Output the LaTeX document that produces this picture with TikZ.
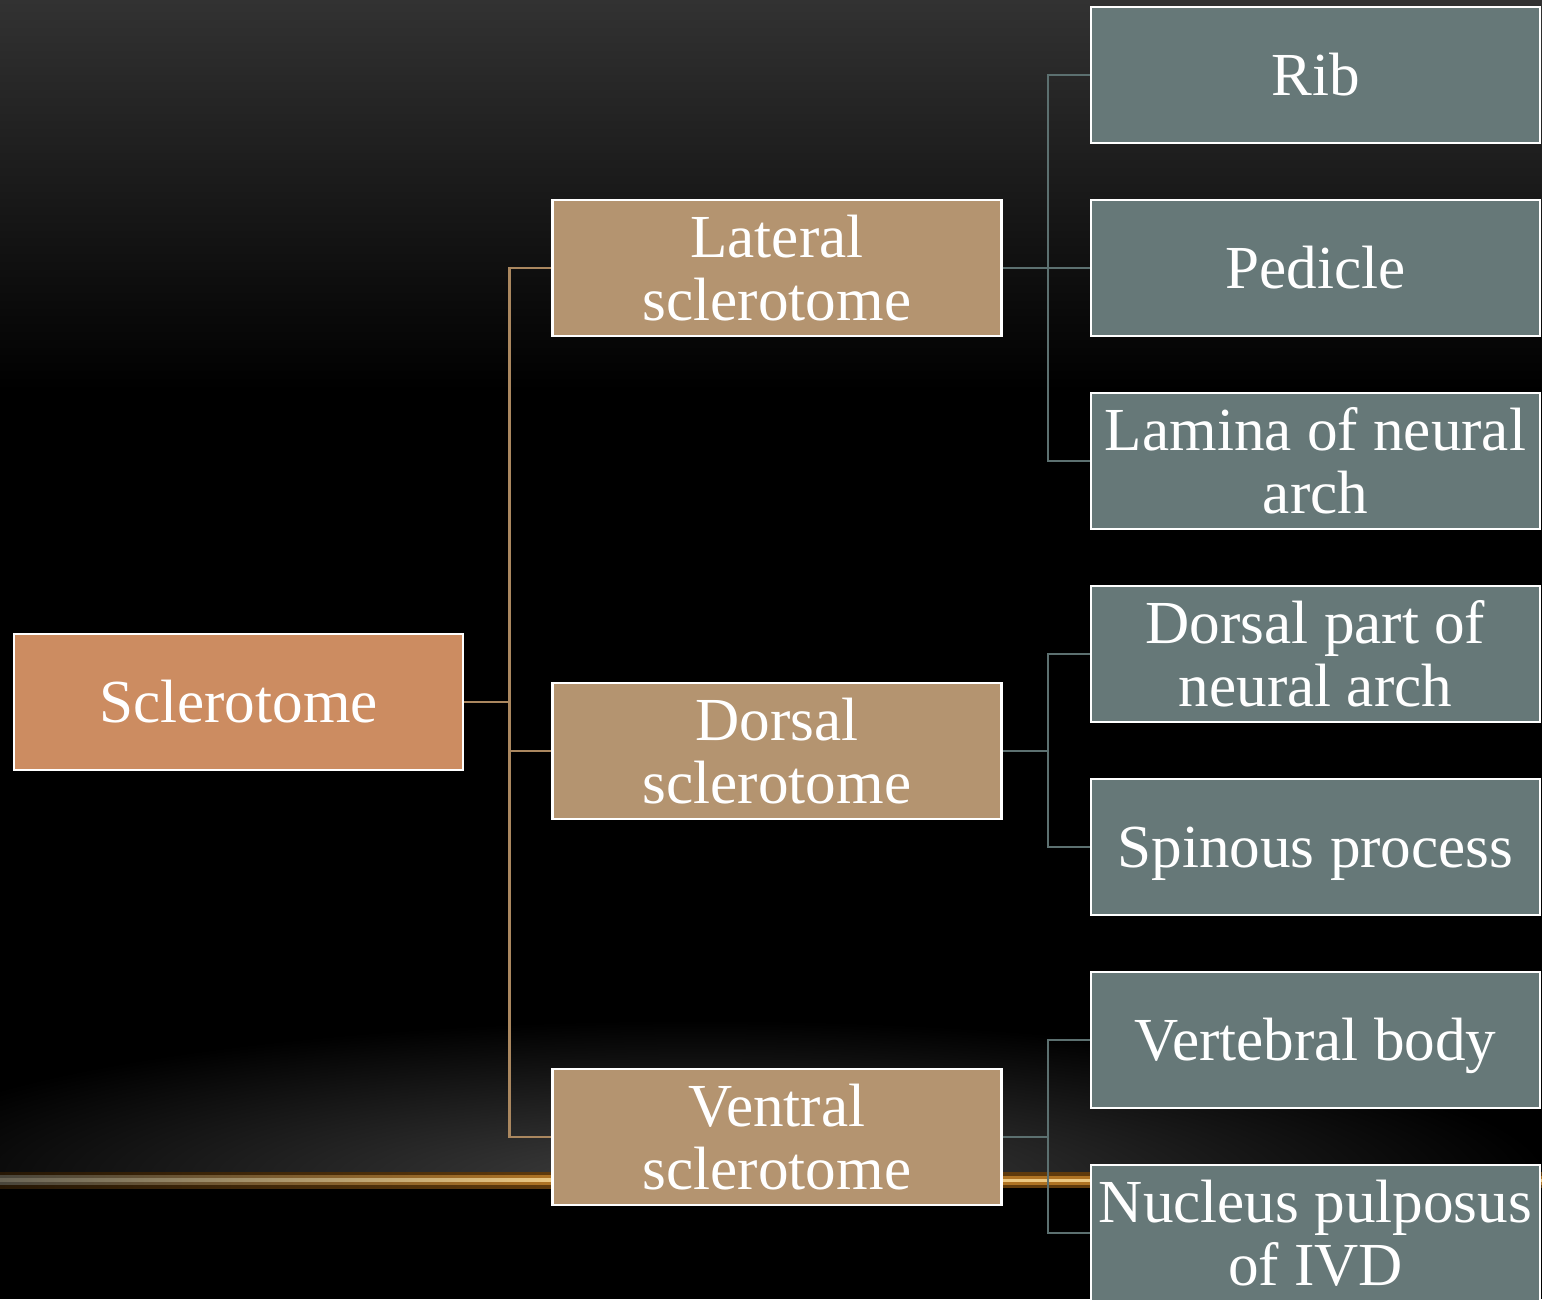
\documentclass[tikz,border=0pt]{standalone}
\usepackage{fontspec}
\setmainfont{Liberation Serif}
\usetikzlibrary{positioning, calc}
\definecolor{sclorange}{RGB}{204,140,97}
\definecolor{sclmid}{RGB}{180,148,112}
\definecolor{sclslate}{RGB}{102,120,120}
\definecolor{linktan}{RGB}{170,135,95}
\definecolor{linkslate}{RGB}{92,112,112}
\definecolor{bgtop}{RGB}{50,50,50}
\definecolor{hazegray}{RGB}{64,64,64}
\definecolor{glowdark}{RGB}{95,58,12}
\definecolor{glowmid}{RGB}{175,115,35}
\definecolor{glowcore}{RGB}{236,200,130}
\definecolor{glowgrey}{RGB}{105,100,85}

\begin{document}
\begin{tikzpicture}[
  box/.style={rectangle, draw=white, line width=0.8pt, minimum width=4.49cm, minimum height=1.36cm, inner sep=0pt, align=center, text=white, font=\fontsize{17.4}{17.9}\selectfont},
  oneline/.style={text height=11.6pt, text depth=0pt},
  lnktan/.style={linktan, line width=0.7pt},
  lnkslate/.style={linkslate, line width=0.7pt}
]
  % background
  \useasboundingbox (0,0) rectangle (15.42,-12.99);
  \fill[black] (0,0) rectangle (15.42,-12.99);
  \shade[top color=bgtop, bottom color=black] (0,0) rectangle (15.42,-3.9);
  \begin{scope}
    \clip (0,-10) rectangle (15.42,-11.8);
    \shade[inner color=hazegray, outer color=black] (7,-11.8) ellipse (8.5 and 1.6);
  \end{scope}
  % glow line, fading out to the left
  \shade[left color=glowdark!40!black, right color=glowdark] (0,-11.72) rectangle (5.6,-11.88);
  \fill[glowdark] (5.6,-11.72) rectangle (15.42,-11.88);
  \shade[left color=glowgrey!70!black, right color=glowmid] (0,-11.755) rectangle (5.6,-11.845);
  \fill[glowmid] (5.6,-11.755) rectangle (15.42,-11.845);
  \shade[left color=glowgrey, right color=glowcore] (0,-11.785) rectangle (5.6,-11.815);
  \fill[glowcore] (5.6,-11.785) rectangle (15.42,-11.815);

  % tree
  \node[box, oneline, fill=sclorange] (scl) at (2.385,-7.02) {Sclerotome};
  \node[box, fill=sclmid] (lat) at (7.77,-2.68) {Lateral\\sclerotome};
  \node[box, fill=sclmid] (dor) at (7.77,-7.51) {Dorsal\\sclerotome};
  \node[box, fill=sclmid] (ven) at (7.77,-11.37) {Ventral\\sclerotome};
  \node[box, oneline, fill=sclslate] (rib) at (13.155,-0.75) {Rib};
  \node[box, oneline, fill=sclslate] (ped) at (13.155,-2.68) {Pedicle};
  \node[box, fill=sclslate] (lam) at (13.155,-4.61) {Lamina of neural\\arch};
  \node[box, fill=sclslate] (dpa) at (13.155,-6.54) {Dorsal part of\\neural arch};
  \node[box, oneline, fill=sclslate] (spi) at (13.155,-8.47) {Spinous process};
  \node[box, oneline, fill=sclslate] (vbo) at (13.155,-10.40) {Vertebral body};
  \node[box, fill=sclslate] (nuc) at (13.155,-12.33) {Nucleus pulposus\\of IVD};

  % links
  \draw[lnktan] (scl.east) -- ++(0.45,0) coordinate (sj);
  \foreach \m in {lat,dor,ven} \draw[lnktan] (sj) |- (\m.west);
  \draw[lnkslate] (lat.east) -- ++(0.45,0) coordinate (lj);
  \foreach \m in {rib,ped,lam} \draw[lnkslate] (lj) |- (\m.west);
  \draw[lnkslate] (dor.east) -- ++(0.45,0) coordinate (dj);
  \foreach \m in {dpa,spi} \draw[lnkslate] (dj) |- (\m.west);
  \draw[lnkslate] (ven.east) -- ++(0.45,0) coordinate (vj);
  \foreach \m in {vbo,nuc} \draw[lnkslate] (vj) |- (\m.west);
\end{tikzpicture}
\end{document}
